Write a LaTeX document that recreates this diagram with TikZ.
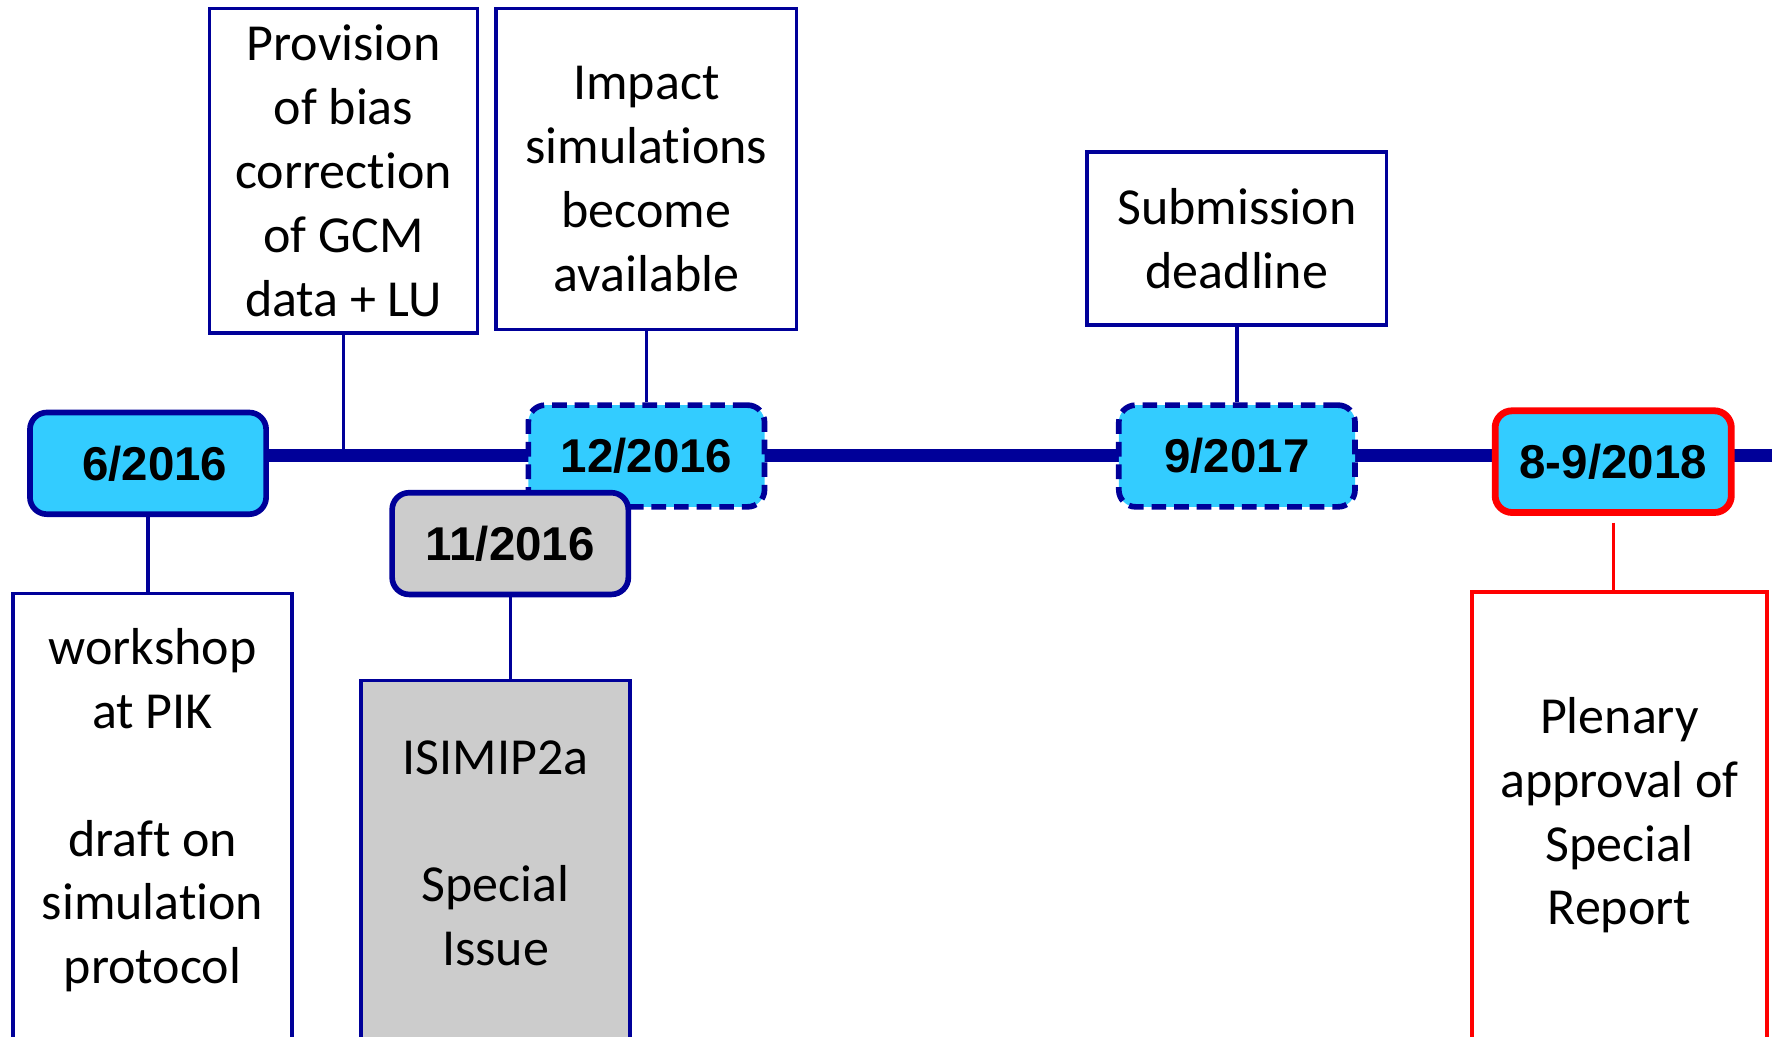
\documentclass[tikz,border=0pt]{standalone}
\usepackage{fontspec}
\setmainfont{Carlito}[Ligatures=NoCommon]
\newfontfamily\datefont{Liberation Sans}
\usepackage{tikz}
\usetikzlibrary{positioning,backgrounds}
\definecolor{tlblue}{HTML}{000099}
\definecolor{tlcyan}{HTML}{33CCFF}
\definecolor{tlgray}{HTML}{CCCCCC}
\definecolor{tlred}{HTML}{FF0000}

\begin{document}
\begin{tikzpicture}[x=1pt,y=-1pt,font=\fontsize{46}{56.5}\selectfont,
  dt/.style={rectangle,rounded corners=15pt,draw=tlblue,line width=5pt,fill=tlcyan,minimum width=209pt,minimum height=90pt,inner sep=0pt,font=\datefont\bfseries\fontsize{42}{50}\selectfont},
  dtdash/.style={dt,dash pattern=on 13pt off 7pt},
  ev/.style={rectangle,draw=tlblue,line width=3pt,fill=white,align=center,inner sep=0pt},
  ln/.style={draw=tlblue,line width=3pt}]
\useasboundingbox (0,0) rectangle (1568,917);
\clip (0,0) rectangle (1568,917);
% dates on the time line
\node[dt] (d6) at (131,410) {\hspace*{12pt}6/2016};
\node[dtdash] (d12) at (572,403.5) {12/2016};
\node[dt,fill=tlgray] (d11) at (451.5,481) {11/2016};
\node[dtdash] (d9) at (1094.5,403.5) {9/2017};
\node[dt,draw=tlred,line width=6pt] (d18) at (1427.5,408.5) {8-9/2018};
\coordinate (tlend) at (1568,403);
\begin{scope}[on background layer]
\draw[tlblue,line width=12pt] (d6.east |- tlend) -- (tlend);
\end{scope}
% events
\node[ev,minimum width=237pt,minimum height=287pt] (prov) at (304,151) {Provision\\of bias\\correction\\of GCM\\data + LU};
\node[ev,minimum width=266pt,minimum height=284pt,above=63pt of d12] (imp) {\rule{0pt}{47pt}Impact\\simulations\\become\\available};
\node[ev,minimum width=265pt,minimum height=153pt,above=67pt of d9] (sub) {Submission\\deadline};
\node[ev,minimum width=247pt,minimum height=433pt,below=66pt of d6,xshift=4pt] (wks) {workshop\\at PIK\\~\\draft on\\simulation\\protocol\\~};
\node[ev,fill=tlgray,minimum width=238pt,minimum height=362pt,below=72pt of d11,xshift=-13pt] (isi) {ISIMIP2a\\~\\Special\\Issue\\~};
\node[ev,draw=tlred,minimum width=261pt,minimum height=444pt,below=66pt of d18,xshift=5.5pt] (plen) {Plenary\\approval of\\Special\\Report\\~};
\draw[ln] (prov) -- (prov.south |- tlend);
\draw[ln] (imp) -- (d12);
\draw[ln] (sub) -- (d9);
\draw[ln] (d6) -- (d6.south |- wks.north);
\draw[ln] (d11) -- (d11.south |- isi.north);
\draw[ln,draw=tlred,shorten <=6pt] (d18) -- (d18.south |- plen.north);
\end{tikzpicture}
\end{document}
